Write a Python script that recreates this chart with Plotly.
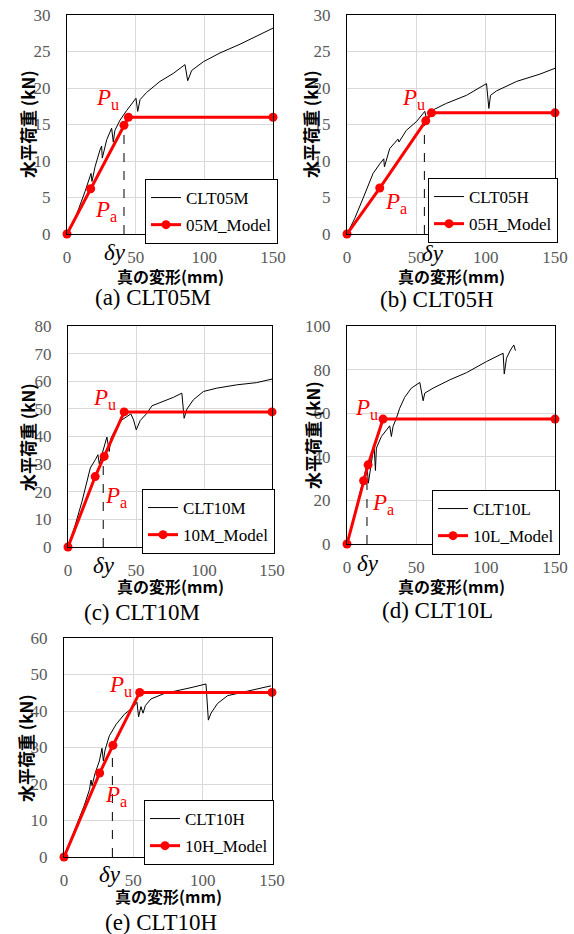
import plotly.graph_objects as go

W, H = 574, 934

# ---------------- data ----------------
names = ["CLT05M", "CLT05H", "CLT10M", "CLT10L", "CLT10H"]
model_names = ["05M_Model", "05H_Model", "10M_Model", "10L_Model", "10H_Model"]
panel_titles = ["(a) CLT05M", "(b) CLT05H", "(c) CLT10M", "(d) CLT10L", "(e) CLT10H"]
x_ticks = [0, 50, 100, 150]
y_max = [30, 30, 80, 100, 60]
y_dtick = [5, 5, 10, 20, 10]

# experimental curves (displacement mm, load kN)
a_exp_x = [0, 7.0, 13.1, 16.7, 17.5, 18.2, 20.4, 24.0, 25.2, 25.7, 28.9, 32.5, 33.7, 34.9, 38.6, 43.4, 47.1,
           50.2, 51.5, 53.2, 58.0, 67.7, 77.4, 85.9, 87.9, 90.8, 99.3, 111.4, 126.0, 140.5, 150]
a_exp_y = [0, 2.7, 5.8, 7.85, 8.3, 7.2, 9.2, 11.5, 12.05, 10.4, 12.9, 14.5, 12.6, 14.2, 15.6, 16.9, 17.8,
           18.6, 16.8, 18.4, 19.4, 20.9, 22.0, 23.2, 21.0, 22.4, 23.6, 24.8, 26.0, 27.3, 28.2]

b_exp_x = [0, 5.5, 11.6, 14.0, 18.8, 23.6, 26.5, 27.0, 30.8, 36.8, 37.5, 42.8, 50.1, 56.1, 57.3, 62.1, 71.7,
           86.2, 100.6, 102.3, 103.5, 107.8, 122.3, 139.1, 150]
b_exp_y = [0, 2.1, 4.9, 6.0, 8.3, 9.6, 10.3, 9.2, 11.7, 13.0, 12.6, 14.2, 15.4, 16.8, 15.8, 17.0, 17.9,
           19.0, 20.6, 17.2, 19.0, 19.6, 20.9, 21.9, 22.7]

c_exp_x = [0, 5.4, 10.3, 13.9, 16.4, 20.1, 22.0, 23.0, 25.0, 28.6, 30.3, 31.6, 34.7, 39.6, 43.3, 46.2, 48.2,
           50.2, 53.1, 58.0, 61.7, 67.8, 77.6, 83.7, 85.4, 87.4, 92.2, 99.6, 109.4, 124.1, 138.7, 150]
c_exp_y = [0, 8.1, 16.5, 23.1, 28.6, 31.6, 33.4, 30.1, 33.4, 39.8, 34.6, 39.4, 42.4, 46.0, 47.2, 48.2, 46.0,
           42.4, 45.8, 48.4, 51.1, 52.3, 54.2, 55.7, 46.6, 49.9, 53.3, 56.3, 57.5, 58.7, 59.5, 60.8]

d_exp_x = [0, 4.3, 7.9, 11.6, 14.4, 15.4, 17.6, 19.5, 20.5, 21.2, 24.8, 28.4, 30.8, 32.0, 33.2, 35.6, 38.0,
           41.6, 46.4, 52.5, 54.9, 56.1, 62.1, 74.1, 86.2, 100.6, 110.2, 112.6, 113.4, 115.0, 117.9, 120.3, 121.5]
d_exp_y = [0, 11.1, 20.3, 29.5, 36.3, 27.9, 38.6, 45.5, 33.7, 44.0, 49.3, 52.4, 54.2, 49.3, 53.9, 57.7, 62.3,
           67.3, 71.5, 74.1, 65.7, 69.2, 71.5, 75.3, 78.6, 83.7, 87.0, 87.5, 78.0, 85.2, 89.0, 91.3, 88.7]

e_exp_x = [0, 6.25, 11.1, 14.7, 18.3, 19.5, 20.2, 22.4, 25.5, 27.4, 28.4, 29.6, 32.7, 37.5, 43.5, 49.5, 52.6,
           53.8, 55.5, 57.0, 58.7, 62.7, 72.4, 82.0, 91.6, 102.4, 104.1, 106.0, 110.8, 118.0, 130.0, 139.7, 149.3]
e_exp_y = [0, 6.0, 10.6, 14.2, 18.4, 21.1, 19.5, 22.9, 26.3, 29.8, 26.3, 29.3, 33.2, 36.3, 39.1, 40.9, 42.4,
           38.4, 41.2, 39.4, 41.5, 43.3, 44.8, 45.7, 46.4, 47.4, 37.5, 39.4, 42.1, 44.2, 45.3, 46.0, 46.9]

# bilinear models
a_mod_x = [0, 17.2, 41.5, 44.7, 150]
a_mod_y = [0, 6.2, 14.9, 16.0, 16.0]
b_mod_x = [0, 23.6, 56.8, 60.9, 150]
b_mod_y = [0, 6.3, 15.5, 16.6, 16.6]
c_mod_x = [0, 20.0, 26.6, 41.3, 150]
c_mod_y = [0, 25.5, 32.8, 48.9, 48.9]
d_mod_x = [0, 12.0, 15.2, 26.0, 150]
d_mod_y = [0, 29.0, 36.3, 57.3, 57.3]
e_mod_x = [0, 25.7, 35.3, 54.6, 150]
e_mod_y = [0, 23.0, 30.6, 45.1, 45.1]

# yield displacement (dashed guide) and its height
dy_x = [41.5, 55.8, 25.9, 14.4, 34.9]
dy_top = [14.9, 15.5, 32.8, 36.3, 30.6]

exp_x = [a_exp_x, b_exp_x, c_exp_x, d_exp_x, e_exp_x]
exp_y = [a_exp_y, b_exp_y, c_exp_y, d_exp_y, e_exp_y]
mod_x = [a_mod_x, b_mod_x, c_mod_x, d_mod_x, e_mod_x]
mod_y = [a_mod_y, b_mod_y, c_mod_y, d_mod_y, e_mod_y]

# ---------------- layout (pixel geometry) ----------------
boxes = [(67, 273, 15, 234), (347, 555, 15, 234), (68, 272, 326, 547),
         (347, 555, 326, 544), (64, 272, 638, 857)]
legend_pos = [(278, 179), (558, 178), (275, 489), (560, 490), (274, 800)]
pu_pos = [(107, 99), (413, 99), (104, 399), (366, 409), (120, 686)]
pa_pos = [(106, 211), (396, 203), (116, 497), (383, 504), (116, 796)]
dy_pos = [(115, 252), (433, 253), (104, 565), (368, 563), (110, 874)]
title_pos = [(153, 298), (437, 299), (142, 612), (437, 610), (161, 922)]
xt_pos = [(170, 276), (451, 276), (170, 586), (451, 586), (168, 896)]
yt_pos = [(27, 124), (310, 124), (27, 437), (313, 435), (25, 748)]

def px(x):
    return x / W

def py(y):
    return 1 - y / H

SERIF = "Liberation Serif"
CJK = "Noto Sans CJK JP"
RED = "#ff0000"
TICK = dict(family=SERIF, size=17, color="#595959")

fig = go.Figure()
layout = dict(width=W, height=H, margin=dict(l=0, r=0, t=0, b=0, autoexpand=False),
              paper_bgcolor="white", plot_bgcolor="white", showlegend=True)
annotations = []

for i in range(5):
    sfx = "" if i == 0 else str(i + 1)
    xa, ya = "x" + sfx, "y" + sfx
    leg = "legend" if i == 0 else "legend" + str(i + 1)
    l, r, t, b = boxes[i]

    fig.add_trace(go.Scatter(x=exp_x[i], y=exp_y[i], mode="lines", name=names[i],
                             line=dict(color="black", width=1), xaxis=xa, yaxis=ya,
                             legend=leg, legendgroup=names[i]))
    fig.add_trace(go.Scatter(x=[dy_x[i], dy_x[i]], y=[0, dy_top[i]], mode="lines", showlegend=False,
                             line=dict(color="black", width=1, dash="dash"), xaxis=xa, yaxis=ya,
                             hoverinfo="skip"))
    fig.add_trace(go.Scatter(x=mod_x[i], y=mod_y[i], mode="lines+markers", name=model_names[i],
                             line=dict(color=RED, width=3), marker=dict(color=RED, size=9),
                             xaxis=xa, yaxis=ya, cliponaxis=False,
                             legend=leg, legendgroup=model_names[i]))

    layout["xaxis" + sfx] = dict(domain=[px(l), px(r)], anchor=ya, range=[0, 150], tickvals=x_ticks,
                                 showgrid=True, gridcolor="#d9d9d9", gridwidth=1, zeroline=False,
                                 showline=True, linecolor="black", linewidth=1, mirror=True,
                                 ticks="", ticklabelstandoff=8, automargin=False, tickfont=TICK)
    layout["yaxis" + sfx] = dict(domain=[py(b), py(t)], anchor=xa, range=[0, y_max[i]], dtick=y_dtick[i],
                                 showgrid=True, gridcolor="#d9d9d9", gridwidth=1, zeroline=False,
                                 showline=True, linecolor="black", linewidth=1, mirror=True,
                                 ticks="", ticklabelstandoff=12, automargin=False, tickfont=TICK)
    lx, ly = legend_pos[i]
    layout[leg] = dict(x=px(lx), y=py(ly), xanchor="right", yanchor="top", xref="paper", yref="paper",
                       bgcolor="white", bordercolor="black", borderwidth=1,
                       font=dict(family=SERIF, size=17, color="black"),
                       traceorder="grouped", tracegroupgap=2, itemwidth=30)

    def ann(pos, text, size, color="black", family=SERIF, angle=0):
        annotations.append(dict(x=px(pos[0]), y=py(pos[1]), xref="paper", yref="paper", text=text,
                                showarrow=False, xanchor="center", yanchor="middle", textangle=angle,
                                font=dict(family=family, size=size, color=color)))

    ann(pu_pos[i], "<i>P</i><sub>u</sub>", 23, RED)
    ann(pa_pos[i], "<i>P</i><sub>a</sub>", 23, RED)
    ann(dy_pos[i], "<i>δy</i>", 23)
    ann(title_pos[i], panel_titles[i], 23)
    ann(xt_pos[i], "<b>真の変形(mm)</b>", 16, "black", CJK)
    ann(yt_pos[i], "<b>水平荷重 (kN)</b>", 17, "black", CJK, -90)

layout["annotations"] = annotations
fig.update_layout(**layout)
fig.write_html("out.html", config={"displayModeBar": False},
               post_script="document.body.style.margin='0';document.body.style.overflow='hidden';")
